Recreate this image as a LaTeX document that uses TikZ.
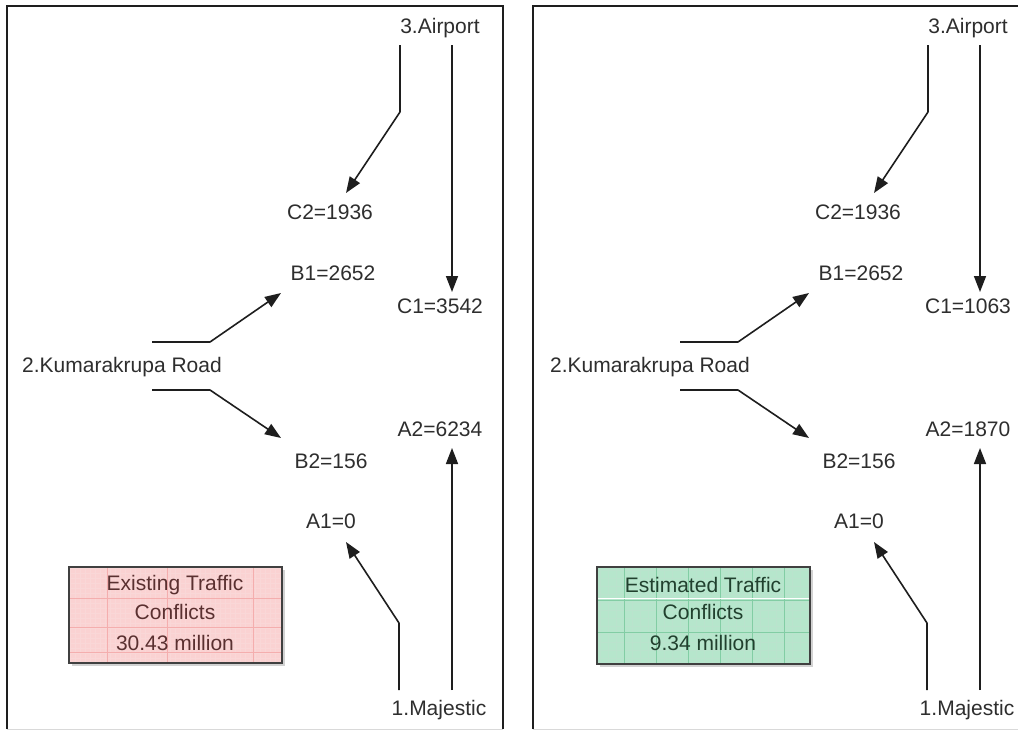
\documentclass[tikz,border=0pt]{standalone}
\usepackage{fontspec}
\setmainfont{Liberation Sans}
\usetikzlibrary{arrows.meta}
\definecolor{txt}{HTML}{2E2E2E}
\definecolor{ln}{HTML}{1E1E1E}
\definecolor{pinkfill}{HTML}{FAD2D2}
\definecolor{pinkgrid}{HTML}{F19A9A}
\definecolor{pinktxt}{HTML}{5A3030}
\definecolor{greenfill}{HTML}{B6E6CC}
\definecolor{greengrid}{HTML}{82CDA4}
\definecolor{greentxt}{HTML}{21402E}
\newcommand\trafficpanel[4]{%
\begin{scope}[xshift=#2pt]
\node[lbl] (#1air) at (440,28) {3.Airport};
\node[lbl] (#1ctwo) at (330,212) {C2=1936};
\node[lbl] (#1bone) at (333,273) {B1=2652};
\node[lbl] (#1cone) at (440,306) {C1=#3};
\node[lbl] (#1road) at (122,367) {2.Kumarakrupa Road};
\node[lbl] (#1atwo) at (440,429) {A2=#4};
\node[lbl] (#1btwo) at (331,461) {B2=156};
\node[lbl] (#1aone) at (331,521) {A1=0};
\node[lbl] (#1maj) at (439,710) {1.Majestic};
\coordinate (#1alS) at (400,45);
\coordinate (#1alB) at (400,112);
\coordinate (#1alT) at (346,193);
\coordinate (#1arS) at (452,45);
\coordinate (#1arT) at (452,292);
\coordinate (#1ruS) at (152,342);
\coordinate (#1ruB) at (210,342);
\coordinate (#1ruT) at (281,293);
\coordinate (#1rdS) at (152,390);
\coordinate (#1rdB) at (210,390);
\coordinate (#1rdT) at (281,438);
\coordinate (#1mlS) at (399,690);
\coordinate (#1mlB) at (399,623);
\coordinate (#1mlT) at (346,542);
\coordinate (#1mrS) at (452,690);
\coordinate (#1mrT) at (452,448);
\draw[arr] (#1alS) -- (#1alB) -- (#1alT);
\draw[arr] (#1arS) -- (#1arT);
\draw[arr] (#1ruS) -- (#1ruB) -- (#1ruT);
\draw[arr] (#1rdS) -- (#1rdB) -- (#1rdT);
\draw[arr] (#1mlS) -- (#1mlB) -- (#1mlT);
\draw[arr] (#1mrS) -- (#1mrT);
\end{scope}}
\begin{document}
\begin{tikzpicture}[x=1pt,y=-1pt,
  lbl/.style={font=\fontsize{21}{25}\selectfont, text=txt, inner sep=0pt},
  arr/.style={draw=ln, line width=1.6pt, line join=round, -{Triangle[length=16pt,width=12pt]}},
  frame/.style={draw=ln, line width=1.8pt},
  boxedge/.style={draw=ln!85, line width=1.6pt},
  boxtxt/.style={font=\fontsize{21}{25}\selectfont, inner sep=0pt}]
\useasboundingbox (0,0) rectangle (1018,731);
\fill[white] (0,0) rectangle (1018,731);
% panel frames
\draw[frame] (7,729) -- (7,6) -- (503,6) -- (503,729);
\draw[gray!30, line width=1pt] (7,729) -- (503,729);
\draw[frame] (533,729) -- (533,6) -- (1018,6);
\draw[gray!30, line width=1pt] (533,729) -- (1018,729);
% panels
\trafficpanel{L}{0}{3542}{6234}
\trafficpanel{R}{528}{1063}{1870}
% existing box
\fill[gray!35] (72,570) rectangle (285,666);
\fill[pinkfill] (69,567) rectangle (282,663);
\begin{scope}
\clip (69,567) rectangle (282,663);
\foreach \gx in {70,75,...,282} \draw[pinkgrid!40, line width=0.3pt] (\gx,567) -- (\gx,663);
\foreach \gy in {568,573,...,663} \draw[pinkgrid!40, line width=0.3pt] (69,\gy) -- (282,\gy);
\foreach \gx in {107,167,253} \draw[pinkgrid!80, line width=0.6pt] (\gx,567) -- (\gx,663);
\foreach \gy in {598,627,652} \draw[pinkgrid!80, line width=0.6pt] (69,\gy) -- (282,\gy);
\end{scope}
\draw[boxedge] (69,567) rectangle (282,663);
\node[boxtxt, text=pinktxt] (ex1) at (175,585) {Existing Traffic};
\node[boxtxt, text=pinktxt] (ex2) at (175,612) {Conflicts};
\node[boxtxt, text=pinktxt] (ex3) at (175,643) {30.43 million};
% estimated box
\fill[gray!35] (600,570) rectangle (813,667);
\fill[greenfill] (597,567) rectangle (810,664);
\begin{scope}
\clip (597,567) rectangle (810,664);
\foreach \gx in {600,608,...,810} \draw[greengrid!55, line width=0.4pt] (\gx,567) -- (\gx,664);
\foreach \gy in {570,578,...,664} \draw[greengrid!55, line width=0.4pt] (597,\gy) -- (810,\gy);
\foreach \gx in {624,656,688,720,752,784} \draw[greengrid, line width=0.7pt] (\gx,567) -- (\gx,664);
\foreach \gy in {600,632} \draw[greengrid, line width=0.7pt] (597,\gy) -- (810,\gy);
\draw[white, line width=0.8pt] (597,598) -- (810,598);
\end{scope}
\draw[boxedge] (597,567) rectangle (810,664);
\node[boxtxt, text=greentxt] (es1) at (703,585) {Estimated Traffic};
\node[boxtxt, text=greentxt] (es2) at (703,612) {Conflicts};
\node[boxtxt, text=greentxt] (es3) at (703,643) {9.34 million};
\end{tikzpicture}
\end{document}
